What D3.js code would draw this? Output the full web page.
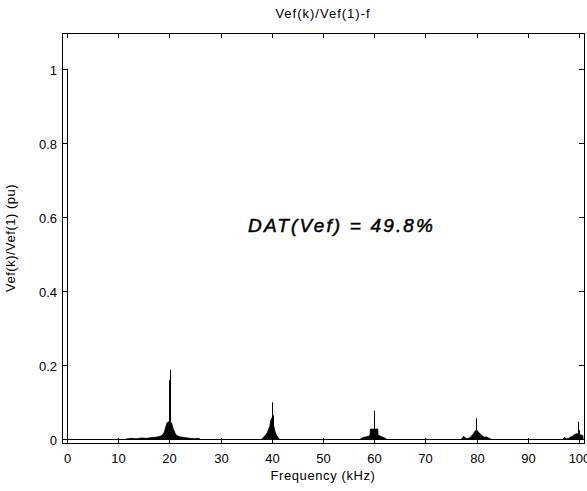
<!DOCTYPE html>
<html>
<head>
<meta charset="utf-8">
<script src="https://cdn.jsdelivr.net/npm/d3@7"></script>
<style>
body { margin: 0; background: #fff; }
text { font-family: Arial, "Liberation Sans", sans-serif; fill: #000; }
</style>
</head>
<body>
<div id="chartArea"></div>
<script>
var xTicks = [0, 10, 20, 30, 40, 50, 60, 70, 80, 90, 100];
var yTicks = [0, 0.2, 0.4, 0.6, 0.8, 1];

// harmonic bands around the switching frequency multiples (kHz, pu)
var band20Freq = [11.5, 12.5, 13.5, 14.5, 15.5, 16.5, 17.3, 18.0, 18.5, 18.8, 19.0, 19.3, 19.5, 19.9, 20.4, 20.7, 21.0, 21.3, 21.7, 22.2, 23.0, 24.0, 25.0, 25.6, 26.0];
var band20Amp = [0.001, 0.003, 0.002, 0.004, 0.003, 0.005, 0.006, 0.008, 0.011, 0.015, 0.02, 0.035, 0.045, 0.048, 0.045, 0.03, 0.02, 0.012, 0.009, 0.007, 0.005, 0.003, 0.002, 0.003, 0.001];
var band40Freq = [38.0, 38.4, 38.8, 39.1, 39.4, 39.6, 39.8, 40.0, 40.2, 40.4, 40.6, 40.9, 41.2, 41.5];
var band40Amp = [0.001, 0.006, 0.012, 0.018, 0.028, 0.035, 0.052, 0.058, 0.05, 0.035, 0.022, 0.012, 0.005, 0.001];
var band60Freq = [57.3, 57.8, 58.4, 58.9, 59.2, 59.25, 60.7, 60.75, 61.2, 61.7, 62.1, 62.4];
var band60Amp = [0.001, 0.005, 0.007, 0.009, 0.012, 0.028, 0.028, 0.012, 0.009, 0.006, 0.004, 0.001];
var band80Freq = [77.1, 77.4, 77.7, 78.0, 78.6, 79.0, 79.4, 79.7, 80.0, 80.3, 80.7, 81.1, 81.5, 81.9, 82.2, 82.6, 82.9];
var band80Amp = [0.001, 0.008, 0.006, 0.002, 0.004, 0.009, 0.016, 0.022, 0.026, 0.021, 0.015, 0.01, 0.006, 0.007, 0.005, 0.002, 0.001];
var band100Freq = [96.9, 97.2, 97.6, 97.9, 98.3, 98.7, 99.0, 99.3, 99.6, 99.9, 100.2, 100.5, 100.8];
var band100Amp = [0.001, 0.005, 0.002, 0.002, 0.006, 0.008, 0.012, 0.014, 0.016, 0.015, 0.013, 0.012, 0.01];

// single tall lines
var spikeFreq = [0, 19.95, 20.05, 20.15, 40.05, 40.15, 60.0, 79.9, 99.75, 100.1];
var spikeAmp = [1, 0.16, 0.188, 0.08, 0.1, 0.065, 0.077, 0.057, 0.048, 0.025];

var width = 587, height = 491;
var plotLeft = 62, plotRight = 584, plotTop = 33, plotBottom = 443;

var svg = d3.select("#chartArea")
    .append("svg")
    .attr("width", width)
    .attr("height", height)

var x = d3.scaleLinear().domain([-1, 101]).range([plotLeft, plotRight]);
var y = d3.scaleLinear().domain([-0.0095, 1.096]).range([plotBottom, plotTop]);

svg.append("clipPath")
    .attr("id", "plotClip")
    .append("rect")
    .attr("x", plotLeft)
    .attr("y", plotTop)
    .attr("width", plotRight - plotLeft)
    .attr("height", plotBottom - plotTop)

var plot = svg.append("g").attr("clip-path", "url(#plotClip)");

var bands = [
    [band20Freq, band20Amp],
    [band40Freq, band40Amp],
    [band60Freq, band60Amp],
    [band80Freq, band80Amp],
    [band100Freq, band100Amp]
];

var area = d3.area()
    .x(function(d){ return x(d[0]); })
    .y0(y(0))
    .y1(function(d){ return y(d[1]); })

bands.forEach(function(b){
    var pts = b[0].map(function(f, i){ return [f, b[1][i]]; });
    plot.append("path")
        .datum(pts)
        .attr("d", area)
        .attr("fill", "#000")
        .attr("stroke", "#000")
        .attr("stroke-width", 0.8)
})

// baseline of the spectrum
plot.append("line")
    .attr("x1", x(0)).attr("x2", x(101))
    .attr("y1", Math.round(y(0)) + 0.5).attr("y2", Math.round(y(0)) + 0.5)
    .attr("stroke", "#000")
    .attr("stroke-width", 1)

plot.selectAll(".spike")
    .data(spikeFreq)
    .enter().append("line")
    .attr("class", "spike")
    .attr("x1", function(d){ return Math.round(x(d)) + 0.5; })
    .attr("x2", function(d){ return Math.round(x(d)) + 0.5; })
    .attr("y1", y(0))
    .attr("y2", function(d, i){ return y(spikeAmp[i]); })
    .attr("stroke", "#000")
    .attr("stroke-width", 1)

// box and inward ticks on all sides
var axes = svg.append("g").attr("shape-rendering", "crispEdges");

axes.append("rect")
    .attr("x", plotLeft + 0.5)
    .attr("y", plotTop + 0.5)
    .attr("width", plotRight - plotLeft)
    .attr("height", plotBottom - plotTop)
    .attr("fill", "none")
    .attr("stroke", "#000")

var tickLen = 5;

xTicks.forEach(function(t){
    var px = Math.round(x(t)) + 0.5;
    axes.append("line").attr("x1", px).attr("x2", px)
        .attr("y1", plotBottom).attr("y2", plotBottom - tickLen).attr("stroke", "#000")
    axes.append("line").attr("x1", px).attr("x2", px)
        .attr("y1", plotTop).attr("y2", plotTop + tickLen).attr("stroke", "#000")
    svg.append("text")
        .text(t)
        .attr("x", px)
        .attr("y", 463)
        .attr("text-anchor", "middle")
        .attr("font-size", 13)
})

yTicks.forEach(function(t){
    var py = Math.round(y(t)) + 0.5;
    axes.append("line").attr("x1", plotLeft).attr("x2", plotLeft + tickLen)
        .attr("y1", py).attr("y2", py).attr("stroke", "#000")
    axes.append("line").attr("x1", plotRight).attr("x2", plotRight - tickLen)
        .attr("y1", py).attr("y2", py).attr("stroke", "#000")
    svg.append("text")
        .text(t)
        .attr("x", plotLeft - 5)
        .attr("y", py + 5)
        .attr("text-anchor", "end")
        .attr("font-size", 13)
})

svg.append("text")
    .text("Vef(k)/Vef(1)-f")
    .attr("x", (plotLeft + plotRight) / 2)
    .attr("y", 18)
    .attr("text-anchor", "middle")
    .attr("font-size", 13)
    .attr("letter-spacing", 1)

svg.append("text")
    .text("Frequency (kHz)")
    .attr("x", (plotLeft + plotRight) / 2)
    .attr("y", 480)
    .attr("text-anchor", "middle")
    .attr("font-size", 13)
    .attr("letter-spacing", 0.6)

svg.append("text")
    .text("Vef(k)/Vef(1) (pu)")
    .attr("transform", "translate(15," + ((plotTop + plotBottom) / 2) + ") rotate(-90)")
    .attr("text-anchor", "middle")
    .attr("font-size", 13)
    .attr("letter-spacing", 0.5)

svg.append("text")
    .text("DAT(Vef) = 49.8%")
    .attr("x", 248)
    .attr("y", 232)
    .attr("font-size", 19)
    .attr("font-style", "italic")
    .attr("stroke", "#000")
    .attr("stroke-width", 0.5)
    .attr("textLength", 185)
    .attr("lengthAdjust", "spacing")
</script>
</body>
</html>
